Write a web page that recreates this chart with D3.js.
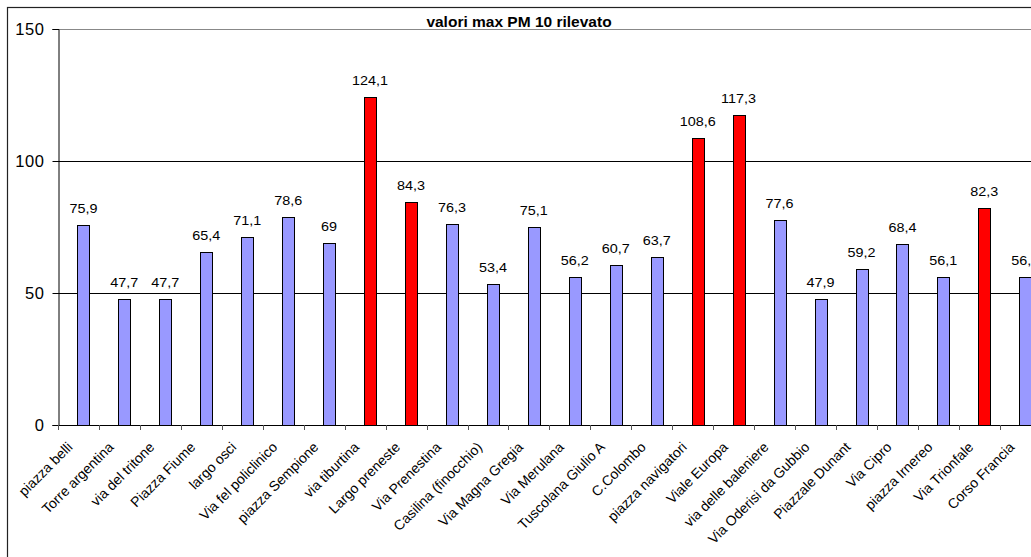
<!DOCTYPE html>
<html>
<head>
<meta charset="utf-8">
<script src="https://cdn.jsdelivr.net/npm/d3@7"></script>
<style>
  html, body { margin: 0; padding: 0; background: #fff; overflow: hidden; }
  svg { display: block; font-family: "Liberation Sans", Arial, sans-serif; }
</style>
</head>
<body>
<svg id="chart" width="1031" height="557"></svg>
<script>
// Stations and maximum PM10 readings
const categories = [
  "piazza belli", "Torre argentina", "via del tritone", "Piazza Fiume", "largo osci",
  "Via fel policlinico", "piazza Sempione", "via tiburtina", "Largo preneste", "Via Prenestina",
  "Casilina (finocchio)", "Via Magna Gregia", "Via Merulana", "Tuscolana Giulio A", "C.Colombo",
  "piazza navigatori", "Viale Europa", "via delle baleniere", "Via Oderisi da Gubbio", "Piazzale Dunant",
  "Via Cipro", "piazza Irnereo", "Via Trionfale", "Corso Francia"
];
const values = [
  75.9, 47.7, 47.7, 65.4, 71.1,
  78.6, 69, 124.1, 84.3, 76.3,
  53.4, 75.1, 56.2, 60.7, 63.7,
  108.6, 117.3, 77.6, 47.9, 59.2,
  68.4, 56.1, 82.3, 56.1
];
// stations flagged as peak readings (drawn in red)
const peaks = [
  false, false, false, false, false,
  false, false, true, true, false,
  false, false, false, false, false,
  true, true, false, false, false,
  false, false, true, false
];
const yTicks = [0, 50, 100, 150];
const title = "valori max PM 10 rilevato";

const data = categories.map((c, i) => ({ name: c, value: values[i], peak: peaks[i] }));
const fmt = v => String(v).replace(".", ",");

const svg = d3.select("#chart");

const plot = { left: 58, top: 29, bottom: 425, band: 40.95 };
const x = d3.scaleBand()
  .domain(categories)
  .range([plot.left, plot.left + plot.band * categories.length])
  .paddingInner(0).paddingOuter(0);
const y = d3.scaleLinear().domain([0, 150]).range([plot.bottom, plot.top]);

// outer chart frame
svg.append("rect")
  .attr("x", 7.5).attr("y", 7.5)
  .attr("width", 1200).attr("height", 700)
  .attr("fill", "none").attr("stroke", "#222").attr("stroke-width", 1.2);

// horizontal gridlines
svg.append("g")
  .selectAll("line")
  .data(yTicks.filter(t => t > 0))
  .join("line")
  .attr("x1", plot.left).attr("x2", 1031)
  .attr("y1", d => Math.round(y(d)) + 0.5).attr("y2", d => Math.round(y(d)) + 0.5)
  .attr("stroke", d => d === 150 ? "#888" : "#000")
  .attr("stroke-width", 1);

// title
svg.append("text")
  .attr("x", 519).attr("y", 26.5)
  .attr("text-anchor", "middle")
  .attr("font-weight", "bold")
  .attr("font-size", 15.5)
  .text(title);

// bars
const barOffset = x.bandwidth() * 0.475;
const barWidth = x.bandwidth() * 0.29;
svg.append("g")
  .selectAll("rect")
  .data(data)
  .join("rect")
  .attr("x", d => Math.round(x(d.name) + barOffset) + 0.5)
  .attr("y", d => Math.round(y(d.value)) + 0.5)
  .attr("width", Math.round(barWidth))
  .attr("height", d => Math.round(y(0)) - Math.round(y(d.value)))
  .attr("fill", d => d.peak ? "#FF0000" : "#9999FF")
  .attr("stroke", "#000")
  .attr("stroke-width", 1);

// value labels
svg.append("g")
  .selectAll("text")
  .data(data)
  .join("text")
  .attr("transform", d => `translate(${x(d.name) + barOffset + barWidth / 2},${y(d.value) - 12}) scale(1.2,1)`)
  .attr("text-anchor", "middle")
  .attr("font-size", 12)
  .attr("fill", "#000")
  .text(d => fmt(d.value));

// y axis
const yAxis = d3.axisLeft(y).tickValues(yTicks).tickSize(6).tickPadding(8);
const gy = svg.append("g")
  .attr("transform", `translate(${plot.left + 0.5},0)`)
  .call(yAxis);
gy.select(".domain").attr("stroke", "#000");
gy.selectAll(".tick line").attr("stroke", "#000");
gy.selectAll(".tick text")
  .attr("font-size", 16.5)
  .attr("font-family", "Liberation Sans, Arial, sans-serif")
  .attr("fill", "#000")
  .attr("letter-spacing", 0.6)
  .attr("dy", "0.35em");

// x axis line and tick marks at band boundaries
svg.append("line")
  .attr("x1", plot.left).attr("x2", 1031)
  .attr("y1", Math.round(y(0)) + 0.5).attr("y2", Math.round(y(0)) + 0.5)
  .attr("stroke", "#000");
svg.append("g")
  .selectAll("line")
  .data(categories)
  .join("line")
  .attr("x1", d => Math.round(x(d)) + 0.5).attr("x2", d => Math.round(x(d)) + 0.5)
  .attr("y1", y(0)).attr("y2", y(0) + 5)
  .attr("stroke", "#555");

// rotated category labels
svg.append("g")
  .selectAll("text")
  .data(categories)
  .join("text")
  .attr("transform", d => `translate(${x(d) + x.bandwidth() / 2 - 5},448) rotate(-45)`)
  .attr("text-anchor", "end")
  .attr("font-size", 14)
  .attr("fill", "#000")
  .text(d => d);
</script>
</body>
</html>
